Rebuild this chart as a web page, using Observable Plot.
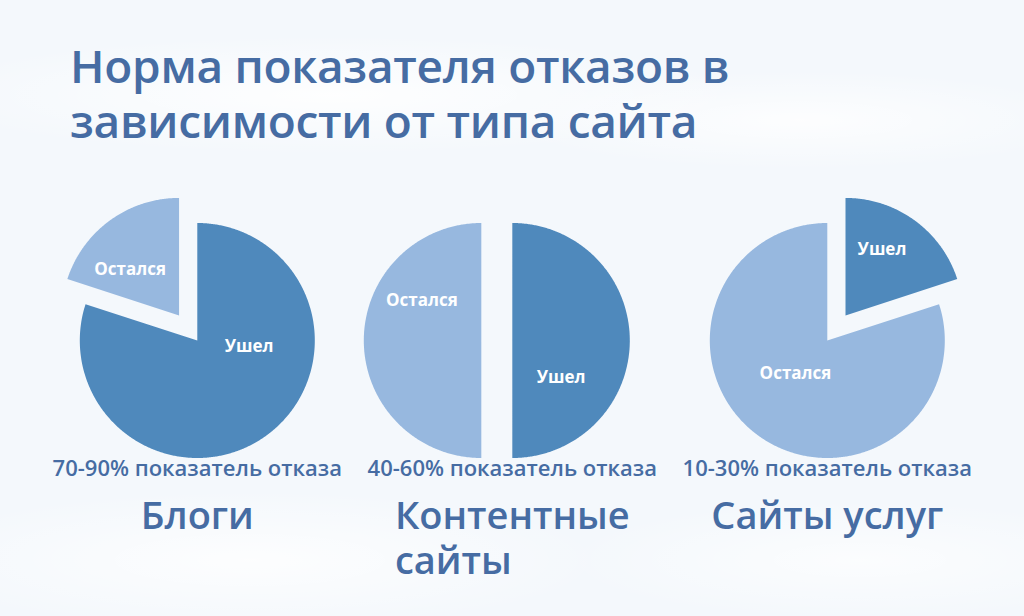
<!DOCTYPE html>
<html>
<head>
<meta charset="utf-8">
<script src="https://cdn.jsdelivr.net/npm/d3@7"></script>
<script src="https://cdn.jsdelivr.net/npm/@observablehq/plot@0.6"></script>
<style>
  html, body { margin: 0; padding: 0; background: #f4f8fc; }
  #wrap {
    width: 1024px; height: 616px; overflow: hidden; position: relative;
    font-family: "Open Sans", sans-serif;
    background:
      radial-gradient(ellipse 420px 60px at 330px 95px, rgba(255,255,255,0.9), rgba(255,255,255,0) 100%),
      radial-gradient(ellipse 300px 50px at 800px 120px, rgba(255,255,255,0.8), rgba(255,255,255,0) 100%),
      radial-gradient(ellipse 360px 70px at 250px 560px, rgba(255,255,255,0.8), rgba(255,255,255,0) 100%),
      radial-gradient(ellipse 300px 60px at 860px 560px, rgba(255,255,255,0.7), rgba(255,255,255,0) 100%),
      #f4f8fc;
  }
  h1 {
    margin: 0; padding: 38px 0 0 70px; height: 132px; box-sizing: content-box;
    font-size: 46px; line-height: 55px; font-weight: 600; color: #466ca3;
    letter-spacing: -0.3px;
  }
  #chart svg { display: block; }
</style>
</head>
<body>
<div id="wrap">
  <h1>Норма показателя отказов в<br>зависимости от типа сайта</h1>
  <div id="chart"></div>
</div>
<script>
// ---- data ----
const siteTypes = ["Блоги", "Контентные\nсайты", "Сайты услуг"];
const bounceRanges = ["70-90% показатель отказа", "40-60% показатель отказа", "10-30% показатель отказа"];
const sliceNames = ["Ушел", "Остался"];
const leftShare = [80, 50, 20];    // Ушел, %
const stayedShare = [20, 50, 80];  // Остался, %

// ---- layout ----
const W = 1024, H = 446;
const STEP = 315, FIRST = 196.8, RPX = 117.5, CY = 170;
const R = RPX / STEP;
const EXPLODE = 31 / STEP;
const xDomain = [-FIRST / STEP, (W - FIRST) / STEP];
const yDomain = [-(H - CY) / STEP, CY / STEP];
// label placement inside each slice: [angle° clockwise from top, fraction of radius]
const labelPlacement = [
  {"Ушел": [97, 0.445], "Остался": [313, 0.57]},
  {"Ушел": [127, 0.52], "Остался": [304, 0.61]},
  {"Ушел": [29, 0.64], "Остался": [224, 0.39]}
];
const textColor = "#466ca3";

const pie = d3.pie().sort(null).value(d => d.value);
const polys = [];
const labels = [];
siteTypes.forEach((site, i) => {
  const values = sliceNames.map((name, k) => ({name, value: k === 0 ? leftShare[i] : stayedShare[i]}));
  const arcs = pie(values);
  const exploded = arcs.reduce((best, a) => (a.value <= best.value ? a : best));
  arcs.forEach(a => {
    const mid = (a.startAngle + a.endAngle) / 2;
    const off = a === exploded ? EXPLODE : 0;
    const cx = i + off * Math.sin(mid);
    const cy = off * Math.cos(mid);
    const id = site + "|" + a.data.name;
    polys.push({id, name: a.data.name, x: cx, y: cy});
    const n = Math.max(2, Math.ceil((a.endAngle - a.startAngle) / (Math.PI / 360)));
    for (let j = 0; j <= n; j++) {
      const t = a.startAngle + (a.endAngle - a.startAngle) * j / n;
      polys.push({id, name: a.data.name, x: cx + R * Math.sin(t), y: cy + R * Math.cos(t)});
    }
    const [deg, f] = labelPlacement[i][a.data.name];
    const th = deg * Math.PI / 180;
    labels.push({name: a.data.name, x: cx + f * R * Math.sin(th), y: cy + f * R * Math.cos(th)});
  });
});

const idx = siteTypes.map((d, i) => i);

const chart = Plot.plot({
  width: W, height: H,
  marginTop: 0, marginRight: 0, marginBottom: 0, marginLeft: 0,
  x: {domain: xDomain, axis: null},
  y: {domain: yDomain, axis: null},
  color: {domain: sliceNames, range: ["#4f89bc", "#97b8df"]},
  style: {background: "transparent", fontFamily: "Open Sans, sans-serif"},
  marks: [
    Plot.line(polys, {x: "x", y: "y", z: "id", fill: "name", stroke: "none", curve: "linear-closed"}),
    Plot.text(labels, {x: "x", y: "y", text: "name", fill: "white", fontSize: 17, fontWeight: 700}),
    Plot.text(idx, {x: i => i, y: () => -R, text: i => bounceRanges[i], dy: 17.5, lineAnchor: "bottom",
      fontSize: 22, fontWeight: 600, fill: textColor}),
    Plot.text(idx, {x: i => i, y: () => -R, text: i => siteTypes[i], dy: 39.5, lineAnchor: "top",
      lineHeight: 1.18, fontSize: 38, fontWeight: 600, fill: textColor})
  ]
});
document.getElementById("chart").appendChild(chart);

// multi-line category names: keep the block centred, but left-align its lines
requestAnimationFrame(() => {});
chart.querySelectorAll("text").forEach(t => {
  const spans = t.querySelectorAll("tspan");
  if (spans.length < 2) return;
  let w = 0;
  try { w = spans[0].getComputedTextLength(); } catch (e) { w = 0; }
  if (!w) w = t.getBBox().width;
  t.setAttribute("text-anchor", "start");
  t.style.textAnchor = "start";
  spans.forEach(s => s.setAttribute("x", String(-w / 2)));
});
</script>
</body>
</html>
